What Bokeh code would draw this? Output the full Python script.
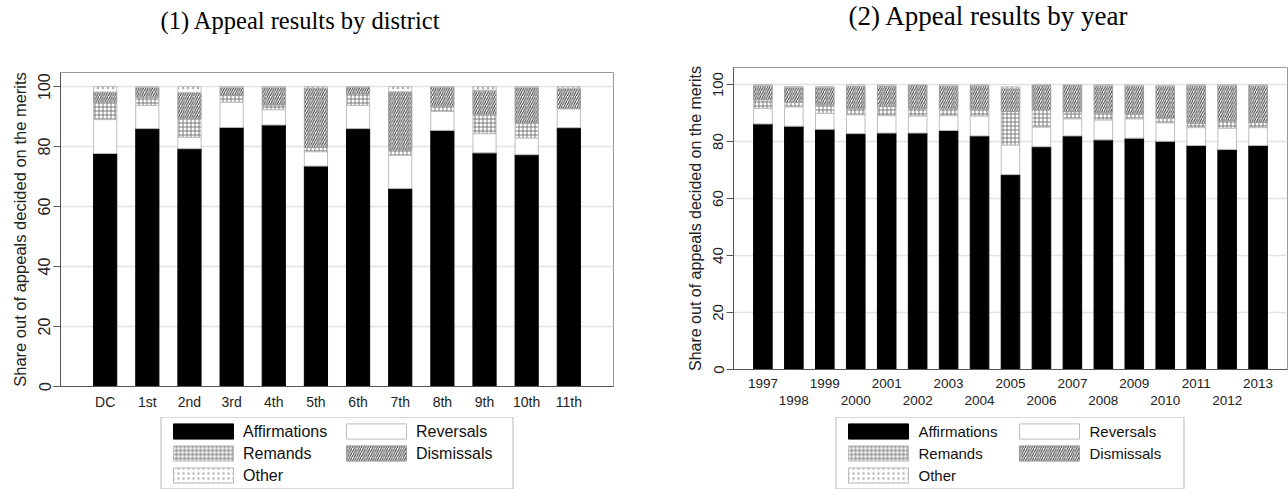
from bokeh.plotting import figure
from bokeh.layouts import row, column
from bokeh.models import (FactorRange, Range1d, LinearAxis, Legend, LegendItem,
                          ColumnDataSource, FixedTicker, Label)
from bokeh.transform import stack
from bokeh.embed import file_html
from bokeh.resources import INLINE

# ---- Panel 1: outcomes by circuit (percent of appeals decided on the merits)
districts = ["DC", "1st", "2nd", "3rd", "4th", "5th", "6th", "7th", "8th", "9th", "10th", "11th"]
aff_district = [77.7, 86.0, 79.3, 86.4, 87.2, 73.5, 86.0, 66.0, 85.4, 77.9, 77.3, 86.3]
rev_district = [11.3, 7.7, 3.8, 8.4, 5.1, 4.8, 7.7, 11.1, 6.3, 6.4, 5.6, 6.3]
rem_district = [5.9, 2.8, 6.4, 2.2, 1.6, 1.4, 4.0, 1.8, 1.8, 6.5, 4.9, 0.2]
dis_district = [3.3, 3.2, 8.5, 2.7, 5.9, 19.8, 2.2, 19.4, 6.4, 8.0, 12.0, 6.6]
oth_district = [1.8, 0.3, 2.0, 0.3, 0.2, 0.5, 0.1, 1.7, 0.1, 1.2, 0.2, 0.6]

# ---- Panel 2: outcomes by year
years = [str(y) for y in range(1997, 2014)]
aff_year = [86.2, 85.4, 84.3, 82.8, 83.0, 83.0, 83.9, 82.0, 68.4, 78.2, 82.0, 80.6, 81.2, 80.1, 78.6, 77.2, 78.6]
rev_year = [5.4, 6.8, 5.6, 6.6, 6.1, 6.0, 5.2, 7.0, 10.4, 6.9, 6.0, 7.0, 6.8, 6.5, 6.3, 7.5, 6.3]
rem_year = [3.1, 1.6, 3.0, 2.3, 3.2, 2.7, 2.6, 2.5, 11.8, 6.2, 2.5, 2.7, 1.7, 1.7, 1.5, 2.6, 1.8]
dis_year = [5.1, 5.3, 6.2, 7.8, 7.3, 8.2, 7.9, 8.3, 8.0, 8.6, 9.4, 9.5, 9.9, 11.2, 13.4, 12.5, 13.1]
oth_year = [0.2, 0.2, 0.2, 0.4, 0.4, 0.1, 0.4, 0.2, 0.6, 0.1, 0.1, 0.2, 0.3, 0.3, 0.2, 0.2, 0.2]

outcomes = ["Affirmations", "Reversals", "Remands", "Dismissals", "Other"]
keys = ["aff", "rev", "rem", "dis", "oth"]
y_ticks = [0, 20, 40, 60, 80, 100]

SANS = "Liberation Sans"
SERIF = "Liberation Serif"
PANEL_W = 644

# fill / hatch look of each outcome layer
LAYER_STYLE = {
    "aff": dict(fill_color="black", line_color="black"),
    "rev": dict(fill_color="white", line_color="#bdbdbd"),
    "rem": dict(fill_color="white", line_color="#bdbdbd", hatch_pattern="+",
                hatch_color="#7a7a7a", hatch_scale=4, hatch_weight=1),
    "dis": dict(fill_color="white", line_color="#9a9a9a", hatch_pattern="/",
                hatch_color="#3a3a3a", hatch_scale=4.5, hatch_weight=1),
    "oth": dict(fill_color="white", line_color="#bdbdbd", hatch_pattern=".",
                hatch_color="#b0b0b0", hatch_scale=5, hatch_weight=1),
}


def bare_strip(height, border_left, border_right, x_end, y_start, y_end):
    # frame of a strip lines up with the chart frame beneath it in the column
    q = figure(width=PANEL_W, height=height, output_backend="svg", toolbar_location=None,
               x_axis_type=None, y_axis_type=None, min_border_left=border_left,
               min_border_right=border_right, min_border_top=0, min_border_bottom=0,
               outline_line_color=None, x_range=Range1d(0, x_end),
               y_range=Range1d(y_start, y_end))
    q.xgrid.grid_line_color = None
    q.ygrid.grid_line_color = None
    return q


def title_strip(text, height, border_left, border_right, x_left, y_center_from_top, size):
    # x measured in pixels from the left edge of the chart frame
    frame_w = PANEL_W - border_left - border_right
    q = bare_strip(height, border_left, border_right, frame_w, 0, height)
    q.add_layout(Label(x=x_left, y=height - y_center_from_top, text=text,
                       text_align="left", text_baseline="middle",
                       text_font=SERIF, text_font_size=size, text_color="black"))
    return q


def legend_strip(border_left, border_right, font_size, label_width):
    # a bare strip under the chart that only carries the key
    q = bare_strip(72, border_left, border_right, 1, 1, 2)
    swatches = []
    for k in keys:
        # zero-height key sample kept below the strip's visible range
        swatches.append(q.vbar(x=[0.5], top=[0], width=0, line_width=1, **LAYER_STYLE[k]))
    items = [LegendItem(label=name, renderers=[r]) for name, r in zip(outcomes, swatches)]
    legend = Legend(items=items, orientation="horizontal", ncols=2, location="center",
                    glyph_width=75, glyph_height=19, label_standoff=3,
                    label_width=label_width, spacing=3, padding=4, margin=0,
                    border_line_color="#6f6f6f", border_line_width=1,
                    label_text_font=SANS, label_text_font_size=font_size,
                    label_text_color="#111111", background_fill_color="white",
                    background_fill_alpha=1)
    q.add_layout(legend, "center")
    return q


def style_yaxis(p, tick_size, label_size):
    ya = p.yaxis[0]
    ya.ticker = FixedTicker(ticks=y_ticks)
    ya.major_label_orientation = "vertical"
    ya.major_label_text_font = SANS
    ya.major_label_text_font_size = tick_size
    ya.major_label_text_color = "#222222"
    ya.major_tick_out = 7
    ya.major_tick_in = 0
    ya.minor_tick_line_color = None
    ya.major_tick_line_color = "#555555"
    ya.axis_line_color = "#555555"
    ya.major_label_standoff = 3
    ya.axis_label = "Share out of appeals decided on the merits"
    ya.axis_label_text_font = SANS
    ya.axis_label_text_font_size = label_size
    ya.axis_label_text_font_style = "normal"
    ya.axis_label_text_color = "#222222"
    ya.axis_label_standoff = 7
    p.xgrid.grid_line_color = None
    p.ygrid.grid_line_color = "#e2e2e2"
    p.ygrid.grid_line_width = 1.5
    p.ygrid.ticker = FixedTicker(ticks=y_ticks)


def style_xaxis(xa, size, standoff, line=True):
    xa.major_label_text_font = SANS
    xa.major_label_text_font_size = size
    xa.major_label_text_color = "#222222"
    xa.major_tick_line_color = None
    xa.minor_tick_line_color = None
    xa.major_tick_out = 0
    xa.major_tick_in = 0
    xa.axis_line_color = "#555555" if line else None
    xa.major_label_standoff = standoff


def draw_stack(p, src, x, width):
    out = []
    for i, k in enumerate(keys):
        out.append(p.vbar(x=x, width=width, bottom=stack(*keys[:i]),
                          top=stack(*keys[:i + 1]), source=src, line_width=1,
                          **LAYER_STYLE[k]))
    return out


# ---------------- left panel: by district
src_d = ColumnDataSource(dict(cat=districts, aff=aff_district, rev=rev_district,
                              rem=rem_district, dis=dis_district, oth=oth_district))
p1 = figure(x_range=FactorRange(factors=districts, range_padding=0.56,
                                range_padding_units="absolute"),
            y_range=Range1d(0, 104.7), width=PANEL_W, height=357,
            output_backend="svg", toolbar_location=None,
            min_border_left=60, min_border_right=31, min_border_top=12, min_border_bottom=31,
            outline_line_color="#9a9a9a")
draw_stack(p1, src_d, "cat", 0.55)
style_yaxis(p1, "16px", "16.5px")
style_xaxis(p1.xaxis[0], "14px", 7)
left = column(title_strip("(1) Appeal results by district", 60, 60, 31, 100, 20, "24.5px"),
              p1, legend_strip(60, 31, "16px", 92))

# ---------------- right panel: by year
pos = list(range(len(years)))
src_y = ColumnDataSource(dict(pos=pos, aff=aff_year, rev=rev_year, rem=rem_year,
                              dis=dis_year, oth=oth_year))
p2 = figure(x_range=Range1d(-0.95, len(years) - 1 + 0.95),
            y_range=Range1d(0, 106), width=PANEL_W, height=362,
            output_backend="svg", toolbar_location=None,
            min_border_left=89, min_border_right=1, min_border_top=12, min_border_bottom=48,
            outline_line_color="#9a9a9a")
draw_stack(p2, src_y, "pos", 0.6)
style_yaxis(p2, "15px", "16px")
year_labels = {i: y for i, y in zip(pos, years)}
xa = p2.xaxis[0]
xa.ticker = FixedTicker(ticks=pos[0::2])
xa.major_label_overrides = year_labels
style_xaxis(xa, "13.5px", 9)
xb = LinearAxis(ticker=FixedTicker(ticks=pos[1::2]), major_label_overrides=year_labels)
style_xaxis(xb, "13.5px", 5, line=False)
p2.add_layout(xb, "below")
right = column(title_strip("(2) Appeal results by year", 55, 89, 1, 115, 15, "27px"),
               p2, legend_strip(89, 1, "15px", 90))

layout = row(left, right)
open("out.html", "w").write(file_html(layout, INLINE))
